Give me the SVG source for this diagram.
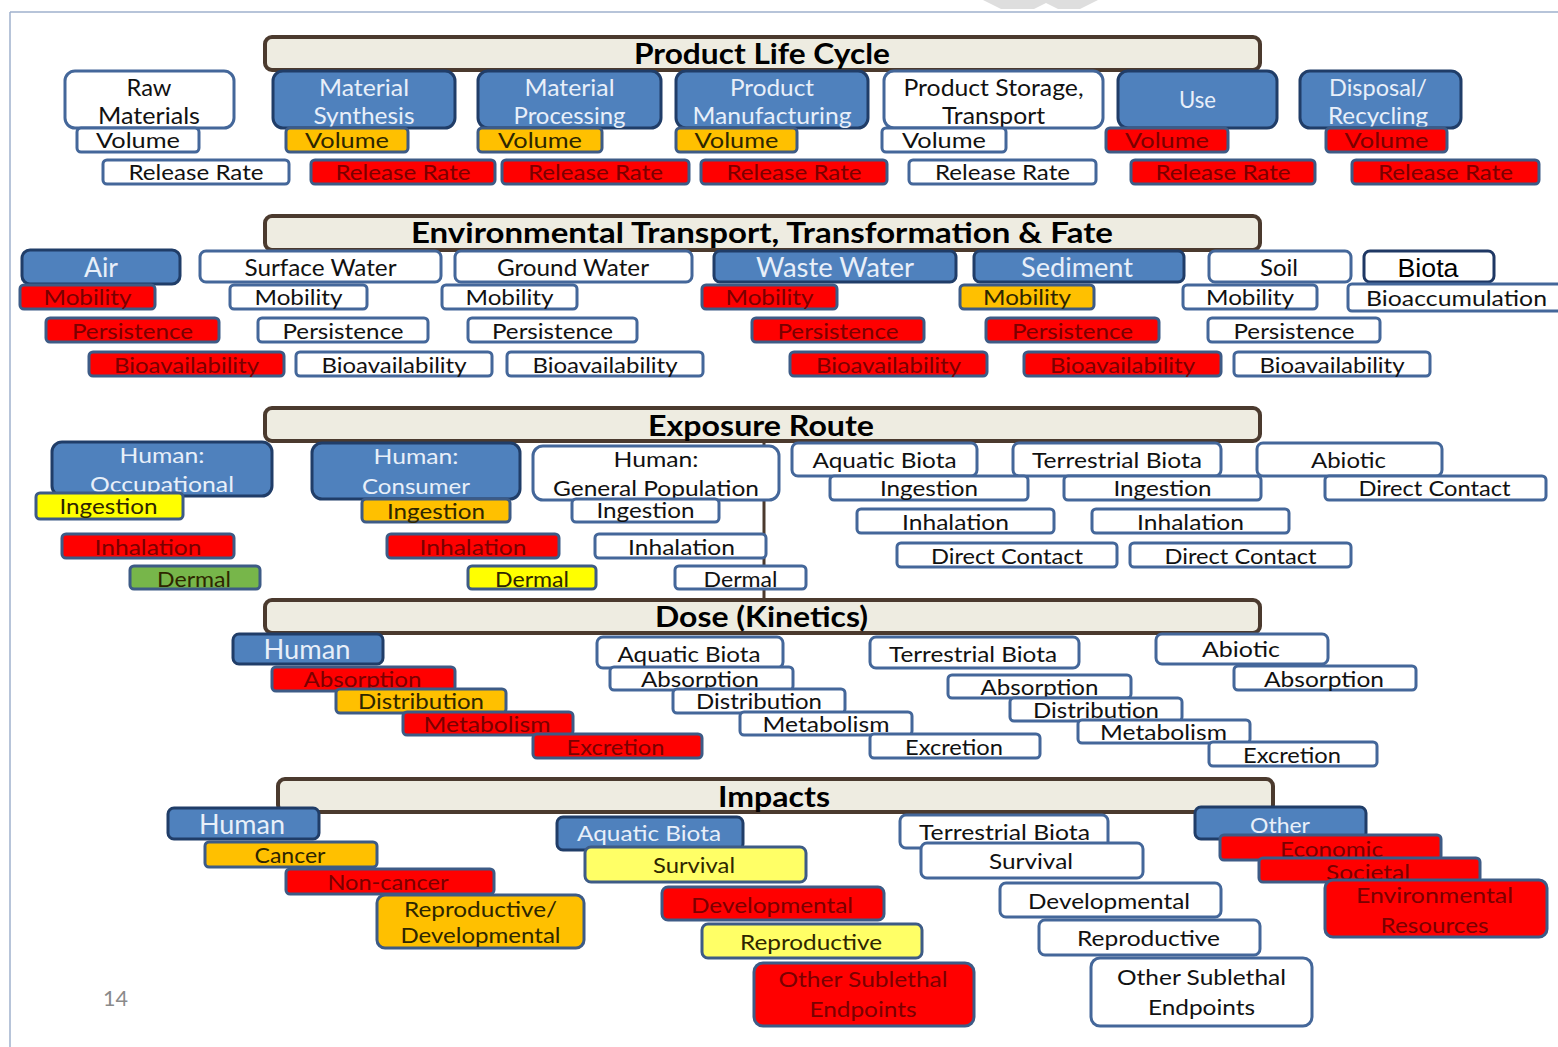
<svg xmlns="http://www.w3.org/2000/svg" width="1558" height="1047" viewBox="0 0 1558 1047">
<style>
text{font-family:Lato,'Open Sans','Liberation Sans',sans-serif;text-anchor:middle}
.hdr{fill:#eeece1;stroke:#4b3a2e;stroke-width:4}
.bw{fill:#fff;stroke:#44679a;stroke-width:3}
.bb{fill:#4f81bd;stroke:#203d68;stroke-width:3}
.red{fill:#ff0000;stroke:#3d5b86;stroke-width:3}
.org{fill:#ffc000;stroke:#3d5b86;stroke-width:3}
.yel{fill:#ffff00;stroke:#3d5b86;stroke-width:3}
.lyel{fill:#ffff66;stroke:#3d5b86;stroke-width:3}
.grn{fill:#77b64a;stroke:#3d5b86;stroke-width:3}
.ttl{font-weight:bold;font-size:29px;fill:#000}
.k{fill:#111}
.w{fill:#e8eff9}
.r{fill:#7a0000}
.d{fill:#2e2600}
.f22{font-size:22px}
.f24{font-size:24px}
.f26{font-size:26px}
.pg{font-size:21px;fill:#8a8a8a}
</style>
<rect x="0" y="0" width="1558" height="1047" fill="#fff"/>
<polygon points="983,0 1098,0 1080,9 1058,9 1046,3 1034,9 1001,9" fill="#dedede"/>
<line x1="10" y1="12" x2="1558" y2="12" stroke="#9fb1cc" stroke-width="1.5"/>
<line x1="10" y1="12" x2="10" y2="1047" stroke="#9fb1cc" stroke-width="1.5"/>

<g id="connectors">
<line x1="764" y1="441" x2="764" y2="600" stroke="#4b3a2e" stroke-width="3"/>
</g>

<!-- Product Life Cycle -->
<g id="plc-header"><rect class="hdr" x="265" y="37" width="995" height="33" rx="7"/><text class="ttl" x="762" y="64" textLength="256" lengthAdjust="spacingAndGlyphs">Product Life Cycle</text></g>
<g id="raw-materials"><rect class="bw" x="65" y="71" width="169" height="57" rx="10"/><text class="k f24" x="149" y="96" textLength="45" lengthAdjust="spacingAndGlyphs">Raw</text><text class="k f24" x="149" y="124" textLength="102" lengthAdjust="spacingAndGlyphs">Materials</text></g>
<g id="material-synthesis"><rect class="bb" x="273" y="71" width="182" height="57" rx="10"/><text class="w f24" x="364" y="96" textLength="90" lengthAdjust="spacingAndGlyphs">Material</text><text class="w f24" x="364" y="124" textLength="101" lengthAdjust="spacingAndGlyphs">Synthesis</text></g>
<g id="material-processing"><rect class="bb" x="478" y="71" width="183" height="57" rx="10"/><text class="w f24" x="569.5" y="96" textLength="90" lengthAdjust="spacingAndGlyphs">Material</text><text class="w f24" x="569.5" y="124" textLength="112" lengthAdjust="spacingAndGlyphs">Processing</text></g>
<g id="product-manufacturing"><rect class="bb" x="676" y="71" width="192" height="57" rx="10"/><text class="w f24" x="772" y="96" textLength="84" lengthAdjust="spacingAndGlyphs">Product</text><text class="w f24" x="772" y="124" textLength="159" lengthAdjust="spacingAndGlyphs">Manufacturing</text></g>
<g id="product-storage"><rect class="bw" x="884" y="71" width="219" height="57" rx="10"/><text class="k f24" x="993.5" y="96" textLength="180" lengthAdjust="spacingAndGlyphs">Product Storage,</text><text class="k f24" x="993.5" y="124" textLength="103" lengthAdjust="spacingAndGlyphs">Transport</text></g>
<g id="use"><rect class="bb" x="1118" y="71" width="159" height="57" rx="10"/><text class="w f24" x="1197.5" y="108" textLength="37" lengthAdjust="spacingAndGlyphs">Use</text></g>
<g id="disposal-recycling"><rect class="bb" x="1300" y="71" width="161" height="57" rx="10"/><text class="w f24" x="1378" y="96" textLength="98" lengthAdjust="spacingAndGlyphs">Disposal/</text><text class="w f24" x="1378" y="124" textLength="100" lengthAdjust="spacingAndGlyphs">Recycling</text></g>

<g id="vol-raw"><rect class="bw" x="77" y="128" width="122" height="24" rx="4"/><text class="k f22" x="138" y="148" textLength="84" lengthAdjust="spacingAndGlyphs">Volume</text></g>
<g id="vol-syn"><rect class="org" x="286" y="128" width="122" height="24" rx="4"/><text class="d f22" x="347" y="148" textLength="84" lengthAdjust="spacingAndGlyphs">Volume</text></g>
<g id="vol-proc"><rect class="org" x="478" y="128" width="124" height="24" rx="4"/><text class="d f22" x="540" y="148" textLength="84" lengthAdjust="spacingAndGlyphs">Volume</text></g>
<g id="vol-man"><rect class="org" x="676" y="128" width="121" height="24" rx="4"/><text class="d f22" x="736.5" y="148" textLength="84" lengthAdjust="spacingAndGlyphs">Volume</text></g>
<g id="vol-sto"><rect class="bw" x="882" y="128" width="124" height="24" rx="4"/><text class="k f22" x="944" y="148" textLength="84" lengthAdjust="spacingAndGlyphs">Volume</text></g>
<g id="vol-use"><rect class="red" x="1106" y="128" width="122" height="24" rx="4"/><text class="r f22" x="1167" y="148" textLength="84" lengthAdjust="spacingAndGlyphs">Volume</text></g>
<g id="vol-dis"><rect class="red" x="1326" y="128" width="121" height="24" rx="4"/><text class="r f22" x="1386.5" y="148" textLength="84" lengthAdjust="spacingAndGlyphs">Volume</text></g>

<g id="rr-raw"><rect class="bw" x="103" y="160" width="186" height="24" rx="4"/><text class="k f22" x="196" y="180" textLength="135" lengthAdjust="spacingAndGlyphs">Release Rate</text></g>
<g id="rr-syn"><rect class="red" x="311" y="160" width="184" height="24" rx="4"/><text class="r f22" x="403" y="180" textLength="135" lengthAdjust="spacingAndGlyphs">Release Rate</text></g>
<g id="rr-proc"><rect class="red" x="502" y="160" width="187" height="24" rx="4"/><text class="r f22" x="595.5" y="180" textLength="135" lengthAdjust="spacingAndGlyphs">Release Rate</text></g>
<g id="rr-man"><rect class="red" x="701" y="160" width="186" height="24" rx="4"/><text class="r f22" x="794" y="180" textLength="135" lengthAdjust="spacingAndGlyphs">Release Rate</text></g>
<g id="rr-sto"><rect class="bw" x="909" y="160" width="187" height="24" rx="4"/><text class="k f22" x="1002.5" y="180" textLength="135" lengthAdjust="spacingAndGlyphs">Release Rate</text></g>
<g id="rr-use"><rect class="red" x="1131" y="160" width="184" height="24" rx="4"/><text class="r f22" x="1223" y="180" textLength="135" lengthAdjust="spacingAndGlyphs">Release Rate</text></g>
<g id="rr-dis"><rect class="red" x="1352" y="160" width="187" height="24" rx="4"/><text class="r f22" x="1445.5" y="180" textLength="135" lengthAdjust="spacingAndGlyphs">Release Rate</text></g>

<!-- Environmental -->
<g id="etf-header"><rect class="hdr" x="265" y="216" width="995" height="34" rx="7"/><text class="ttl" x="762" y="243" textLength="702" lengthAdjust="spacingAndGlyphs">Environmental Transport, Transformation &amp; Fate</text></g>
<g id="air"><rect class="bb" x="22" y="250" width="158" height="34" rx="8"/><text class="w f26" x="101" y="277" textLength="34" lengthAdjust="spacingAndGlyphs">Air</text></g>
<g id="surface-water"><rect class="bw" x="200" y="251" width="241" height="31" rx="6"/><text class="k f24" x="320.5" y="276" textLength="152" lengthAdjust="spacingAndGlyphs">Surface Water</text></g>
<g id="ground-water"><rect class="bw" x="455" y="251" width="237" height="31" rx="6"/><text class="k f24" x="573" y="276" textLength="152" lengthAdjust="spacingAndGlyphs">Ground Water</text></g>
<g id="waste-water"><rect class="bb" x="714" y="251" width="242" height="31" rx="6"/><text class="w f26" x="835" y="277" textLength="158" lengthAdjust="spacingAndGlyphs">Waste Water</text></g>
<g id="sediment"><rect class="bb" x="974" y="251" width="210" height="31" rx="6"/><text class="w f26" x="1077" y="277" textLength="112" lengthAdjust="spacingAndGlyphs">Sediment</text></g>
<g id="soil"><rect class="bw" x="1209" y="251" width="142" height="31" rx="6"/><text class="k f24" x="1279" y="276" textLength="38" lengthAdjust="spacingAndGlyphs">Soil</text></g>
<g id="biota"><rect class="bw" x="1364" y="251" width="130" height="31" rx="6" style="stroke:#1f3864"/><text x="1428" y="277" style="font-family:'Liberation Sans',Arial,sans-serif;font-size:26px;fill:#000" textLength="61" lengthAdjust="spacingAndGlyphs">Biota</text></g>

<g id="mob-air"><rect class="red" x="20" y="285" width="135" height="24" rx="4"/><text class="r f22" x="87.5" y="305" textLength="88" lengthAdjust="spacingAndGlyphs">Mobility</text></g>
<g id="mob-sw"><rect class="bw" x="230" y="285" width="137" height="24" rx="4"/><text class="k f22" x="298.5" y="305" textLength="88" lengthAdjust="spacingAndGlyphs">Mobility</text></g>
<g id="mob-gw"><rect class="bw" x="442" y="285" width="135" height="24" rx="4"/><text class="k f22" x="509.5" y="305" textLength="88" lengthAdjust="spacingAndGlyphs">Mobility</text></g>
<g id="mob-ww"><rect class="red" x="702" y="285" width="135" height="24" rx="4"/><text class="r f22" x="769.5" y="305" textLength="88" lengthAdjust="spacingAndGlyphs">Mobility</text></g>
<g id="mob-sed"><rect class="org" x="960" y="285" width="134" height="24" rx="4"/><text class="d f22" x="1027" y="305" textLength="88" lengthAdjust="spacingAndGlyphs">Mobility</text></g>
<g id="mob-soil"><rect class="bw" x="1183" y="285" width="134" height="24" rx="4"/><text class="k f22" x="1250" y="305" textLength="88" lengthAdjust="spacingAndGlyphs">Mobility</text></g>
<g id="bioaccumulation"><rect class="bw" x="1348" y="284" width="216" height="27" rx="4"/><text class="k f22" x="1456.5" y="306" textLength="181" lengthAdjust="spacingAndGlyphs">Bioaccumulation</text></g>

<g id="per-air"><rect class="red" x="46" y="318" width="173" height="24" rx="4"/><text class="r f22" x="132.5" y="339" textLength="121" lengthAdjust="spacingAndGlyphs">Persistence</text></g>
<g id="per-sw"><rect class="bw" x="258" y="318" width="170" height="24" rx="4"/><text class="k f22" x="343" y="339" textLength="121" lengthAdjust="spacingAndGlyphs">Persistence</text></g>
<g id="per-gw"><rect class="bw" x="468" y="318" width="169" height="24" rx="4"/><text class="k f22" x="552.5" y="339" textLength="121" lengthAdjust="spacingAndGlyphs">Persistence</text></g>
<g id="per-ww"><rect class="red" x="752" y="318" width="172" height="24" rx="4"/><text class="r f22" x="838" y="339" textLength="121" lengthAdjust="spacingAndGlyphs">Persistence</text></g>
<g id="per-sed"><rect class="red" x="986" y="318" width="173" height="24" rx="4"/><text class="r f22" x="1072.5" y="339" textLength="121" lengthAdjust="spacingAndGlyphs">Persistence</text></g>
<g id="per-soil"><rect class="bw" x="1208" y="318" width="172" height="24" rx="4"/><text class="k f22" x="1294" y="339" textLength="121" lengthAdjust="spacingAndGlyphs">Persistence</text></g>

<g id="bio-air"><rect class="red" x="89" y="352" width="195" height="24" rx="4"/><text class="r f22" x="186.5" y="373" textLength="145" lengthAdjust="spacingAndGlyphs">Bioavailability</text></g>
<g id="bio-sw"><rect class="bw" x="296" y="352" width="196" height="24" rx="4"/><text class="k f22" x="394" y="373" textLength="145" lengthAdjust="spacingAndGlyphs">Bioavailability</text></g>
<g id="bio-gw"><rect class="bw" x="507" y="352" width="196" height="24" rx="4"/><text class="k f22" x="605" y="373" textLength="145" lengthAdjust="spacingAndGlyphs">Bioavailability</text></g>
<g id="bio-ww"><rect class="red" x="790" y="352" width="197" height="24" rx="4"/><text class="r f22" x="888.5" y="373" textLength="145" lengthAdjust="spacingAndGlyphs">Bioavailability</text></g>
<g id="bio-sed"><rect class="red" x="1024" y="352" width="197" height="24" rx="4"/><text class="r f22" x="1122.5" y="373" textLength="145" lengthAdjust="spacingAndGlyphs">Bioavailability</text></g>
<g id="bio-soil"><rect class="bw" x="1234" y="352" width="196" height="24" rx="4"/><text class="k f22" x="1332" y="373" textLength="145" lengthAdjust="spacingAndGlyphs">Bioavailability</text></g>

<!-- Exposure Route -->
<g id="er-header"><rect class="hdr" x="265" y="408" width="995" height="33" rx="7"/><text class="ttl" x="761" y="436" textLength="226" lengthAdjust="spacingAndGlyphs">Exposure Route</text></g>
<g id="er-occupational"><rect class="bb" x="52" y="442" width="220" height="54" rx="10"/><text class="w f22" x="162" y="463" textLength="85" lengthAdjust="spacingAndGlyphs">Human:</text><text class="w f22" x="162" y="492" textLength="144" lengthAdjust="spacingAndGlyphs">Occupational</text></g>
<g id="er-consumer"><rect class="bb" x="312" y="443" width="208" height="56" rx="10"/><text class="w f22" x="416" y="464" textLength="85" lengthAdjust="spacingAndGlyphs">Human:</text><text class="w f22" x="416" y="494" textLength="108" lengthAdjust="spacingAndGlyphs">Consumer</text></g>
<g id="er-general"><rect class="bw" x="533" y="446" width="246" height="54" rx="10"/><text class="k f22" x="656" y="467" textLength="85" lengthAdjust="spacingAndGlyphs">Human:</text><text class="k f22" x="656" y="496" textLength="206" lengthAdjust="spacingAndGlyphs">General Population</text></g>
<g id="er-aquatic"><rect class="bw" x="792" y="443" width="185" height="33" rx="6"/><text class="k f22" x="884.5" y="468" textLength="144" lengthAdjust="spacingAndGlyphs">Aquatic Biota</text></g>
<g id="er-terrestrial"><rect class="bw" x="1013" y="443" width="208" height="33" rx="6"/><text class="k f22" x="1117" y="468" textLength="170" lengthAdjust="spacingAndGlyphs">Terrestrial Biota</text></g>
<g id="er-abiotic"><rect class="bw" x="1257" y="443" width="185" height="33" rx="6"/><text class="k f22" x="1348.5" y="468" textLength="75" lengthAdjust="spacingAndGlyphs">Abiotic</text></g>

<g id="ing-occ"><rect class="yel" x="36" y="493" width="147" height="26" rx="4"/><text class="d f22" x="108.5" y="514" textLength="98" lengthAdjust="spacingAndGlyphs">Ingestion</text></g>
<g id="ing-con"><rect class="org" x="362" y="499" width="148" height="23" rx="4"/><text class="d f22" x="436" y="519" textLength="98" lengthAdjust="spacingAndGlyphs">Ingestion</text></g>
<g id="ing-gen"><rect class="bw" x="572" y="499" width="147" height="23" rx="4"/><text class="k f22" x="645.5" y="518" textLength="98" lengthAdjust="spacingAndGlyphs">Ingestion</text></g>
<g id="ing-aq"><rect class="bw" x="830" y="476" width="198" height="24" rx="4"/><text class="k f22" x="929" y="496" textLength="98" lengthAdjust="spacingAndGlyphs">Ingestion</text></g>
<g id="ing-ter"><rect class="bw" x="1064" y="476" width="197" height="24" rx="4"/><text class="k f22" x="1162.5" y="496" textLength="98" lengthAdjust="spacingAndGlyphs">Ingestion</text></g>
<g id="dc-abi"><rect class="bw" x="1325" y="476" width="221" height="24" rx="4"/><text class="k f22" x="1434.5" y="496" textLength="152" lengthAdjust="spacingAndGlyphs">Direct Contact</text></g>

<g id="inh-occ"><rect class="red" x="62" y="534" width="172" height="24" rx="4"/><text class="r f22" x="148" y="555" textLength="107" lengthAdjust="spacingAndGlyphs">Inhalation</text></g>
<g id="inh-con"><rect class="red" x="387" y="534" width="172" height="24" rx="4"/><text class="r f22" x="473" y="555" textLength="107" lengthAdjust="spacingAndGlyphs">Inhalation</text></g>
<g id="inh-gen"><rect class="bw" x="595" y="534" width="171" height="24" rx="4"/><text class="k f22" x="681.5" y="555" textLength="107" lengthAdjust="spacingAndGlyphs">Inhalation</text></g>
<g id="inh-aq"><rect class="bw" x="857" y="509" width="197" height="24" rx="4"/><text class="k f22" x="955.5" y="530" textLength="107" lengthAdjust="spacingAndGlyphs">Inhalation</text></g>
<g id="inh-ter"><rect class="bw" x="1092" y="509" width="197" height="24" rx="4"/><text class="k f22" x="1190.5" y="530" textLength="107" lengthAdjust="spacingAndGlyphs">Inhalation</text></g>

<g id="der-occ"><rect class="grn" x="130" y="566" width="130" height="23" rx="4"/><text class="d f22" x="194" y="587" textLength="74" lengthAdjust="spacingAndGlyphs">Dermal</text></g>
<g id="der-con"><rect class="yel" x="468" y="566" width="128" height="23" rx="4"/><text class="d f22" x="532" y="587" textLength="74" lengthAdjust="spacingAndGlyphs">Dermal</text></g>
<g id="der-gen"><rect class="bw" x="675" y="566" width="131" height="23" rx="4"/><text class="k f22" x="740.5" y="587" textLength="74" lengthAdjust="spacingAndGlyphs">Dermal</text></g>
<g id="dc-aq"><rect class="bw" x="897" y="543" width="220" height="24" rx="4"/><text class="k f22" x="1007" y="564" textLength="152" lengthAdjust="spacingAndGlyphs">Direct Contact</text></g>
<g id="dc-ter"><rect class="bw" x="1130" y="543" width="221" height="24" rx="4"/><text class="k f22" x="1240.5" y="564" textLength="152" lengthAdjust="spacingAndGlyphs">Direct Contact</text></g>

<!-- Dose -->
<g id="dose-header"><rect class="hdr" x="265" y="600" width="995" height="33" rx="7"/><text class="ttl" x="761.5" y="627" textLength="213" lengthAdjust="spacingAndGlyphs">Dose (Kinetics)</text></g>
<g id="dose-human"><rect class="bb" x="233" y="634" width="150" height="30" rx="6"/><text class="w f26" x="307" y="659" textLength="87" lengthAdjust="spacingAndGlyphs">Human</text></g>
<g id="dose-aquatic"><rect class="bw" x="597" y="637" width="186" height="31" rx="6"/><text class="k f22" x="689" y="662" textLength="143" lengthAdjust="spacingAndGlyphs">Aquatic Biota</text></g>
<g id="dose-terrestrial"><rect class="bw" x="870" y="637" width="209" height="31" rx="6"/><text class="k f22" x="973" y="662" textLength="168" lengthAdjust="spacingAndGlyphs">Terrestrial Biota</text></g>
<g id="dose-abiotic"><rect class="bw" x="1156" y="634" width="172" height="30" rx="6"/><text class="k f22" x="1241" y="657" textLength="78" lengthAdjust="spacingAndGlyphs">Abiotic</text></g>

<g id="abs-hum"><rect class="red" x="272" y="667" width="183" height="24" rx="4"/><text class="r f22" x="362.5" y="687" textLength="118" lengthAdjust="spacingAndGlyphs">Absorption</text></g>
<g id="dis-hum"><rect class="org" x="336" y="689" width="170" height="24" rx="4"/><text class="d f22" x="421" y="709" textLength="126" lengthAdjust="spacingAndGlyphs">Distribution</text></g>
<g id="met-hum"><rect class="red" x="403" y="712" width="170" height="23" rx="4"/><text class="r f22" x="487" y="732" textLength="127" lengthAdjust="spacingAndGlyphs">Metabolism</text></g>
<g id="exc-hum"><rect class="red" x="533" y="734" width="169" height="24" rx="4"/><text class="r f22" x="615.5" y="755" textLength="98" lengthAdjust="spacingAndGlyphs">Excretion</text></g>

<g id="abs-aq"><rect class="bw" x="610" y="667" width="183" height="23" rx="4"/><text class="k f22" x="700" y="687" textLength="118" lengthAdjust="spacingAndGlyphs">Absorption</text></g>
<g id="dis-aq"><rect class="bw" x="673" y="689" width="172" height="24" rx="4"/><text class="k f22" x="759" y="709" textLength="126" lengthAdjust="spacingAndGlyphs">Distribution</text></g>
<g id="met-aq"><rect class="bw" x="740" y="712" width="172" height="23" rx="4"/><text class="k f22" x="826" y="732" textLength="127" lengthAdjust="spacingAndGlyphs">Metabolism</text></g>
<g id="exc-aq"><rect class="bw" x="870" y="734" width="170" height="24" rx="4"/><text class="k f22" x="954" y="755" textLength="98" lengthAdjust="spacingAndGlyphs">Excretion</text></g>

<g id="abs-ter"><rect class="bw" x="948" y="675" width="183" height="23" rx="4"/><text class="k f22" x="1039.5" y="695" textLength="118" lengthAdjust="spacingAndGlyphs">Absorption</text></g>
<g id="dis-ter"><rect class="bw" x="1010" y="698" width="172" height="23" rx="4"/><text class="k f22" x="1096" y="718" textLength="126" lengthAdjust="spacingAndGlyphs">Distribution</text></g>
<g id="met-ter"><rect class="bw" x="1078" y="720" width="172" height="23" rx="4"/><text class="k f22" x="1163.5" y="740" textLength="127" lengthAdjust="spacingAndGlyphs">Metabolism</text></g>
<g id="exc-ter"><rect class="bw" x="1209" y="742" width="168" height="24" rx="4"/><text class="k f22" x="1292" y="763" textLength="98" lengthAdjust="spacingAndGlyphs">Excretion</text></g>

<g id="abs-abi"><rect class="bw" x="1234" y="666" width="182" height="24" rx="4"/><text class="k f22" x="1324" y="687" textLength="120" lengthAdjust="spacingAndGlyphs">Absorption</text></g>

<!-- Impacts -->
<g id="imp-header"><rect class="hdr" x="278" y="779" width="995" height="33" rx="7"/><text class="ttl" x="774" y="807" textLength="112" lengthAdjust="spacingAndGlyphs">Impacts</text></g>
<g id="imp-human"><rect class="bb" x="168" y="808" width="151" height="31" rx="6"/><text class="w f26" x="242" y="834" textLength="86" lengthAdjust="spacingAndGlyphs">Human</text></g>
<g id="imp-cancer"><rect class="org" x="205" y="842" width="172" height="25" rx="4"/><text class="d f22" x="290" y="863" textLength="71" lengthAdjust="spacingAndGlyphs">Cancer</text></g>
<g id="imp-noncancer"><rect class="red" x="286" y="869" width="208" height="25" rx="4"/><text class="r f22" x="388" y="890" textLength="121" lengthAdjust="spacingAndGlyphs">Non-cancer</text></g>
<g id="imp-repdev"><rect class="org" x="377" y="895" width="207" height="53" rx="8"/><text class="d f22" x="480.5" y="917" textLength="153" lengthAdjust="spacingAndGlyphs">Reproductive/</text><text class="d f22" x="480.5" y="943" textLength="160" lengthAdjust="spacingAndGlyphs">Developmental</text></g>

<g id="imp-aquatic"><rect class="bb" x="557" y="817" width="186" height="33" rx="6"/><text class="w f22" x="649" y="841" textLength="144" lengthAdjust="spacingAndGlyphs">Aquatic Biota</text></g>
<g id="aq-survival"><rect class="lyel" x="585" y="847" width="221" height="35" rx="6"/><text class="d f22" x="694" y="873" textLength="82" lengthAdjust="spacingAndGlyphs">Survival</text></g>
<g id="aq-developmental"><rect class="red" x="662" y="887" width="222" height="33" rx="6"/><text class="r f22" x="772" y="913" textLength="162" lengthAdjust="spacingAndGlyphs">Developmental</text></g>
<g id="aq-reproductive"><rect class="lyel" x="702" y="924" width="220" height="34" rx="6"/><text class="d f22" x="811" y="950" textLength="142" lengthAdjust="spacingAndGlyphs">Reproductive</text></g>
<g id="aq-sublethal"><rect class="red" x="754" y="963" width="220" height="63" rx="9"/><text class="r f22" x="863" y="987" textLength="169" lengthAdjust="spacingAndGlyphs">Other Sublethal</text><text class="r f22" x="863" y="1017" textLength="107" lengthAdjust="spacingAndGlyphs">Endpoints</text></g>

<g id="imp-terrestrial"><rect class="bw" x="900" y="815" width="208" height="33" rx="6"/><text class="k f22" x="1004.5" y="840" textLength="171" lengthAdjust="spacingAndGlyphs">Terrestrial Biota</text></g>
<g id="ter-survival"><rect class="bw" x="921" y="843" width="222" height="35" rx="6"/><text class="k f22" x="1031" y="869" textLength="84" lengthAdjust="spacingAndGlyphs">Survival</text></g>
<g id="ter-developmental"><rect class="bw" x="1000" y="883" width="221" height="34" rx="6"/><text class="k f22" x="1109" y="909" textLength="162" lengthAdjust="spacingAndGlyphs">Developmental</text></g>
<g id="ter-reproductive"><rect class="bw" x="1039" y="920" width="221" height="35" rx="6"/><text class="k f22" x="1148.5" y="946" textLength="143" lengthAdjust="spacingAndGlyphs">Reproductive</text></g>
<g id="ter-sublethal"><rect class="bw" x="1091" y="958" width="221" height="68" rx="9"/><text class="k f22" x="1201.5" y="985" textLength="169" lengthAdjust="spacingAndGlyphs">Other Sublethal</text><text class="k f22" x="1201.5" y="1015" textLength="107" lengthAdjust="spacingAndGlyphs">Endpoints</text></g>

<g id="imp-other"><rect class="bb" x="1195" y="807" width="171" height="32" rx="6"/><text class="w f22" x="1280" y="833" textLength="60" lengthAdjust="spacingAndGlyphs">Other</text></g>
<g id="oth-economic"><rect class="red" x="1220" y="835" width="221" height="25" rx="4"/><text class="r f22" x="1331.5" y="857" textLength="103" lengthAdjust="spacingAndGlyphs">Economic</text></g>
<g id="oth-societal"><rect class="red" x="1259" y="858" width="221" height="24" rx="4"/><text class="r f22" x="1368" y="880" textLength="84" lengthAdjust="spacingAndGlyphs">Societal</text></g>
<g id="oth-envres"><rect class="red" x="1325" y="880" width="222" height="57" rx="8"/><text class="r f22" x="1434.5" y="903" textLength="157" lengthAdjust="spacingAndGlyphs">Environmental</text><text class="r f22" x="1434.5" y="933" textLength="108" lengthAdjust="spacingAndGlyphs">Resources</text></g>

<text class="pg" x="115.5" y="1006" textLength="25" lengthAdjust="spacingAndGlyphs">14</text>
</svg>
